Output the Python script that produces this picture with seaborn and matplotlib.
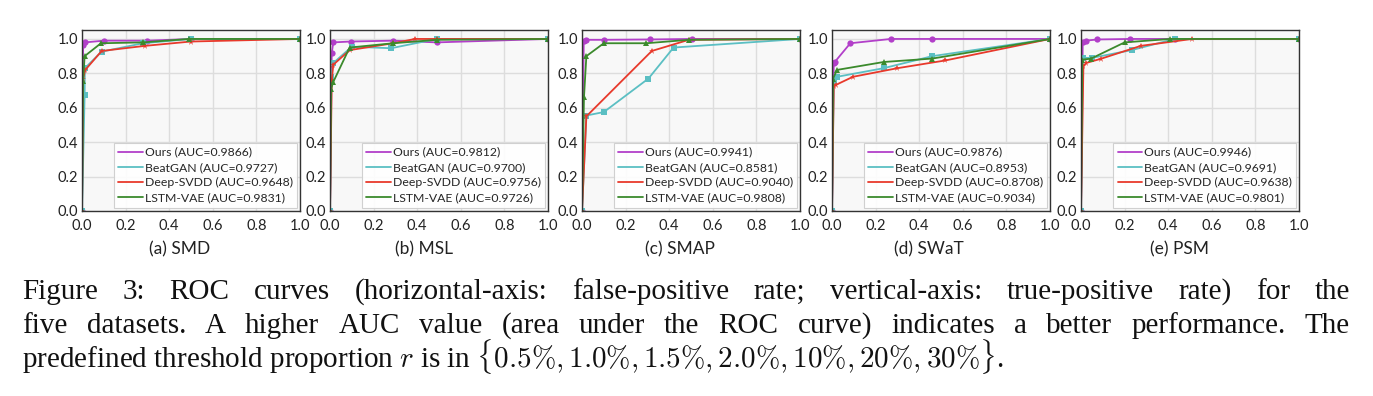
import matplotlib
matplotlib.use("Agg")
import matplotlib.pyplot as plt
from matplotlib.lines import Line2D
import seaborn as sns
import pandas as pd

sns.set_theme(style="whitegrid")
plt.rcParams['font.family'] = ['Lato', 'DejaVu Sans']

methods = ["Ours", "BeatGAN", "Deep-SVDD", "LSTM-VAE"]
colors = ["#b23fc9", "#5bbfc3", "#e8392b", "#3b8a2c"]
markers = ["o", "s", "*", "^"]
datasets = ["(a) SMD", "(b) MSL", "(c) SMAP", "(d) SWaT", "(e) PSM"]

# AUC values per dataset (Ours, BeatGAN, Deep-SVDD, LSTM-VAE)
auc_smd = [0.9866, 0.9727, 0.9648, 0.9831]
auc_msl = [0.9812, 0.9700, 0.9756, 0.9726]
auc_smap = [0.9941, 0.8581, 0.9040, 0.9808]
auc_swat = [0.9876, 0.8953, 0.8708, 0.9034]
auc_psm = [0.9946, 0.9691, 0.9638, 0.9801]

# ROC points (FPR, TPR) per dataset and method
smd_fpr = [[0, 0.005, 0.015, 0.10, 0.30, 0.50, 1.0],
           [0, 0.012, 0.013, 0.09, 0.28, 0.50, 1.0],
           [0, 0.005, 0.015, 0.09, 0.29, 0.50, 1.0],
           [0, 0.005, 0.012, 0.087, 0.28, 0.49, 1.0]]
smd_tpr = [[0, 0.965, 0.98, 0.99, 0.99, 1.0, 1.0],
           [0, 0.674, 0.83, 0.926, 0.975, 1.0, 1.0],
           [0, 0.77, 0.82, 0.93, 0.96, 0.985, 1.0],
           [0, 0.755, 0.90, 0.975, 0.98, 1.0, 1.0]]

msl_fpr = [[0, 0.008, 0.015, 0.095, 0.29, 0.49, 1.0],
           [0, 0.005, 0.015, 0.10, 0.28, 0.49, 1.0],
           [0, 0.008, 0.015, 0.09, 0.29, 0.39, 0.49, 1.0],
           [0, 0.005, 0.015, 0.09, 0.29, 0.49, 1.0]]
msl_tpr = [[0, 0.917, 0.98, 0.985, 0.99, 0.98, 1.0],
           [0, 0.78, 0.86, 0.955, 0.946, 1.0, 1.0],
           [0, 0.76, 0.85, 0.935, 0.975, 1.0, 1.0, 1.0],
           [0, 0.71, 0.75, 0.95, 0.975, 0.995, 1.0]]

smap_fpr = [[0, 0.008, 0.02, 0.10, 0.31, 0.505, 1.0],
            [0, 0.02, 0.10, 0.305, 0.42, 1.0],
            [0, 0.02, 0.32, 0.49, 1.0],
            [0, 0.009, 0.02, 0.10, 0.295, 0.49, 1.0]]
smap_tpr = [[0, 0.99, 0.995, 0.995, 0.997, 1.0, 1.0],
            [0, 0.555, 0.575, 0.77, 0.95, 1.0],
            [0, 0.55, 0.93, 0.995, 1.0],
            [0, 0.66, 0.90, 0.975, 0.975, 0.995, 1.0]]

swat_fpr = [[0, 0.008, 0.012, 0.084, 0.27, 0.46, 1.0],
            [0, 0.008, 0.023, 0.237, 0.46, 1.0],
            [0, 0.008, 0.018, 0.096, 0.30, 0.52, 1.0],
            [0, 0.005, 0.023, 0.237, 0.46, 1.0]]
swat_tpr = [[0, 0.86, 0.865, 0.975, 1.0, 1.0, 1.0],
            [0, 0.75, 0.78, 0.83, 0.90, 1.0],
            [0, 0.727, 0.733, 0.78, 0.83, 0.875, 1.0],
            [0, 0.77, 0.82, 0.866, 0.886, 1.0]]

psm_fpr = [[0, 0.008, 0.021, 0.075, 0.225, 0.43, 1.0],
           [0, 0.008, 0.05, 0.232, 0.43, 1.0],
           [0, 0.011, 0.023, 0.092, 0.275, 0.51, 1.0],
           [0, 0.006, 0.045, 0.20, 0.41, 1.0]]
psm_tpr = [[0, 0.985, 0.99, 0.997, 1.0, 1.0, 1.0],
           [0, 0.89, 0.89, 0.935, 1.0, 1.0],
           [0, 0.84, 0.86, 0.885, 0.96, 1.0, 1.0],
           [0, 0.88, 0.885, 0.98, 1.0, 1.0]]

all_fpr = [smd_fpr, msl_fpr, smap_fpr, swat_fpr, psm_fpr]
all_tpr = [smd_tpr, msl_tpr, smap_tpr, swat_tpr, psm_tpr]
all_auc = [auc_smd, auc_msl, auc_smap, auc_swat, auc_psm]

W, H = 1373, 396
fig = plt.figure(figsize=(W / 100, H / 100), dpi=100)
fig.patch.set_facecolor("white")

lefts = [82, 330, 582, 832, 1081]
sub_x = [0.45, 0.43, 0.447, 0.445, 0.45]
for k in range(5):
    ax = fig.add_axes([lefts[k] / W, (H - 211) / H, 218 / W, 181 / H])
    ax.set_facecolor("#f8f8f8")
    rows = []
    for m, meth in enumerate(methods):
        for i, (x, y) in enumerate(zip(all_fpr[k][m], all_tpr[k][m])):
            rows.append({"fpr": x, "tpr": y, "method": meth, "order": i})
    df = pd.DataFrame(rows)
    sns.lineplot(data=df, x="fpr", y="tpr", hue="method", style="method",
                 hue_order=methods, style_order=methods,
                 palette=dict(zip(methods, colors)),
                 markers=dict(zip(methods, markers)),
                 dashes=False, sort=False, estimator=None,
                 linewidth=1.3, markersize=4.5, markeredgewidth=0,
                 legend=False, ax=ax)
    ax.set_xlim(0, 1.0)
    ax.set_ylim(0, 1.052)
    ax.set_xticks([0, 0.2, 0.4, 0.6, 0.8, 1.0])
    ax.set_yticks([0, 0.2, 0.4, 0.6, 0.8, 1.0])
    ax.set_xticklabels(["0.0", "0.2", "0.4", "0.6", "0.8", "1.0"])
    ax.set_yticklabels(["0.0", "0.2", "0.4", "0.6", "0.8", "1.0"])
    ax.tick_params(labelsize=10.5, colors="#222222", length=0)
    ax.tick_params(axis="x", pad=6)
    ax.tick_params(axis="y", pad=3)
    ax.grid(True, color="#dddddd", linewidth=1.0)
    for s in ax.spines.values():
        s.set_color("#333333")
        s.set_linewidth(1.0)
    ax.set_xlabel(datasets[k], fontsize=12.5, color="#222222")
    ax.xaxis.set_label_coords(sub_x[k], -0.165)
    ax.set_ylabel("")
    handles = [Line2D([0], [0], color=c, lw=1.3) for c in colors]
    labels = [f"{meth} (AUC={a:.4f})" for meth, a in zip(methods, all_auc[k])]
    leg = ax.legend(handles, labels, loc="lower right", fontsize=8.8,
                    handlelength=2.0, handletextpad=0.15, borderpad=0.35,
                    labelspacing=0.35, borderaxespad=0.25, frameon=True,
                    fancybox=False, framealpha=0.9, edgecolor="#cccccc")
    leg.get_frame().set_linewidth(0.8)

# Caption (justified lines)
serif = ["Liberation Serif", "DejaVu Serif"]
fs = 21
line1 = "Figure 3: ROC curves (horizontal-axis: false-positive rate; vertical-axis: true-positive rate) for the"
line2 = "five datasets. A higher AUC value (area under the ROC curve) indicates a better performance. The"
x_left, x_right = 22, 1350
renderer = fig.canvas.get_renderer()


def justify(line, baseline):
    words = line.split(" ")
    texts = [fig.text(0, 1 - baseline / H, w, fontsize=fs, family=serif,
                      va="baseline", ha="left", color="#111111") for w in words]
    widths = [t.get_window_extent(renderer).width for t in texts]
    gap = (x_right - x_left - sum(widths)) / (len(words) - 1)
    x = x_left
    for t, w in zip(texts, widths):
        t.set_x(x / W)
        x += w + gap


justify(line1, 299)
justify(line2, 333)
fig.text(x_left / W, 1 - 367 / H,
         r"predefined threshold proportion $r$ is in $\{0.5\%, 1.0\%, 1.5\%, 2.0\%, 10\%, 20\%, 30\%\}$.",
         fontsize=fs, family=serif, math_fontfamily="cm", va="baseline", ha="left",
         color="#111111")

fig.savefig("out.png", dpi=100)
